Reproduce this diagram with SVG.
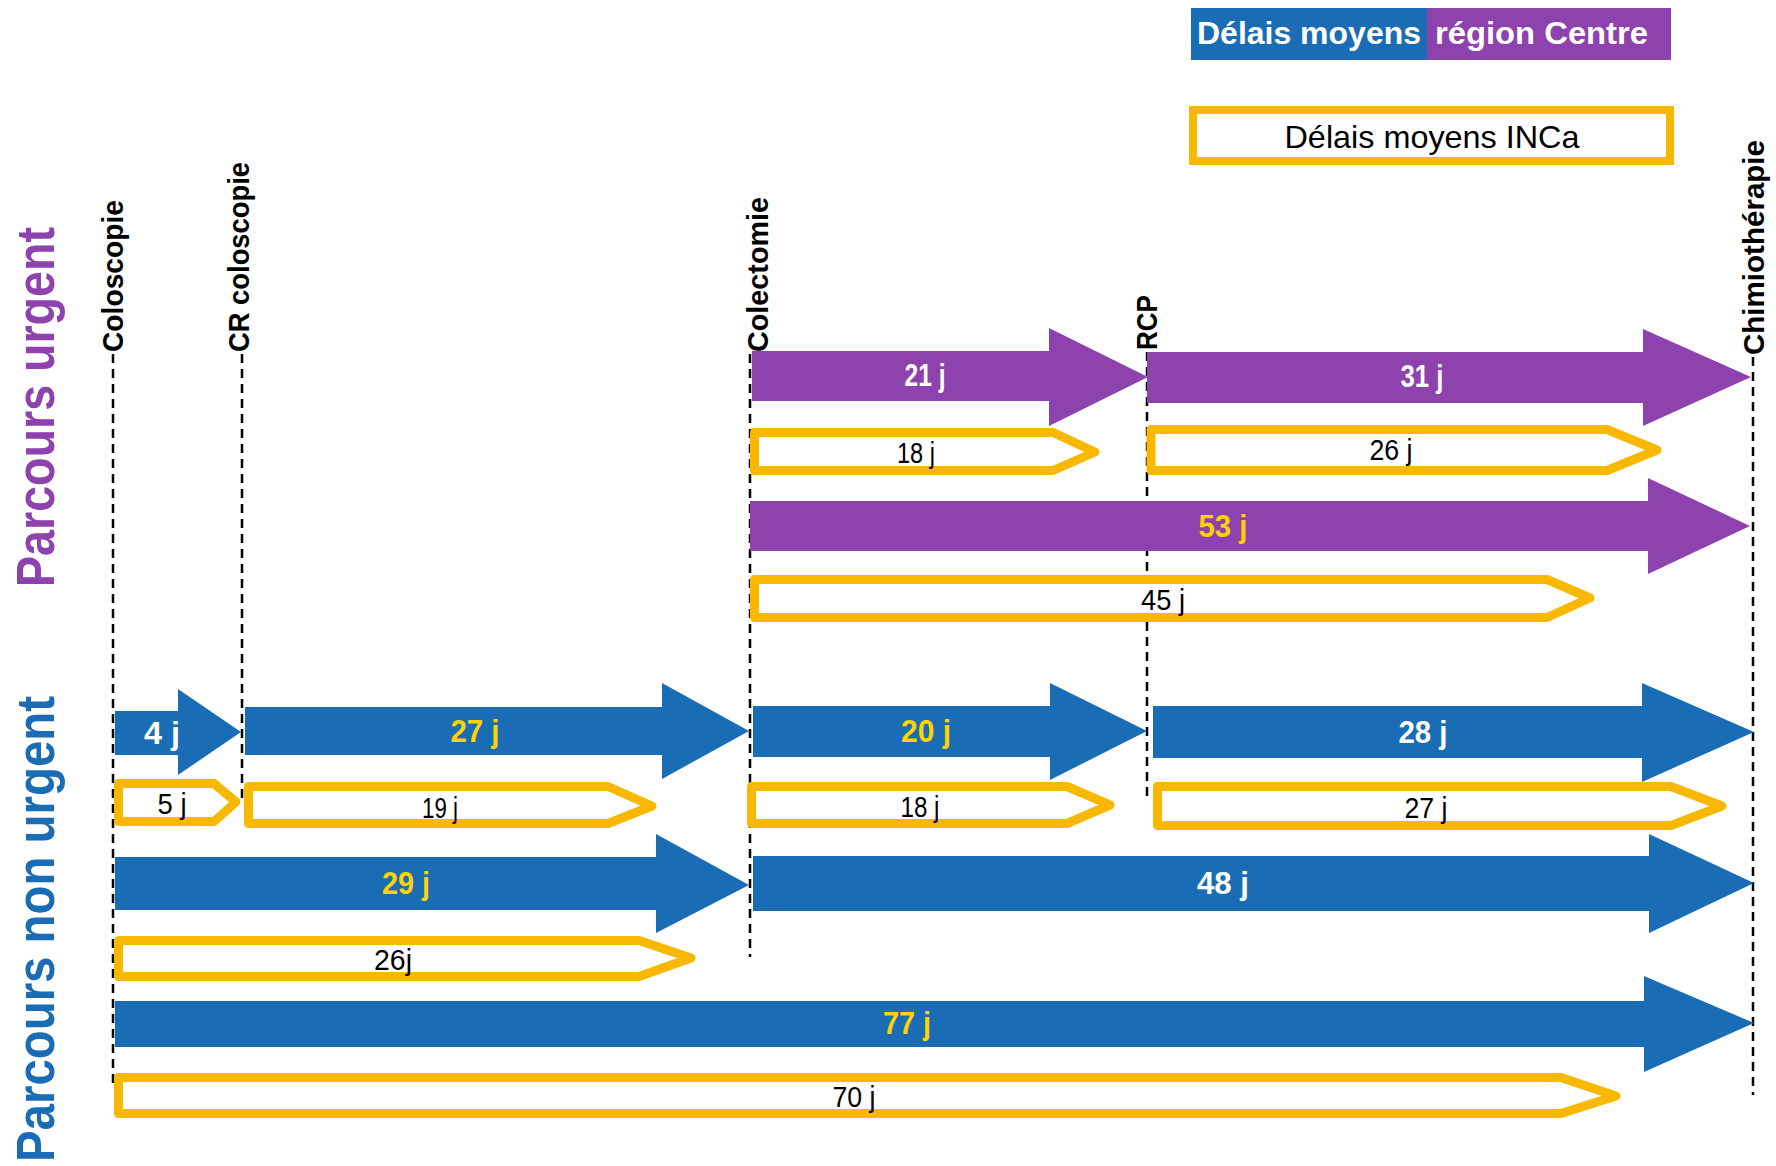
<svg xmlns="http://www.w3.org/2000/svg" width="1776" height="1166" viewBox="0 0 1776 1166">
<style>
.pu{fill:#8E42AD}
.bl{fill:#1A6DB5}
.box{fill:#fff;stroke:#F9B800;stroke-width:9;stroke-linejoin:round}
.vl{font-family:"Liberation Sans",Arial,sans-serif;font-weight:bold;font-size:30px;fill:#000}
.num{font-family:"Liberation Sans",Arial,sans-serif;font-weight:bold;font-size:31px;text-anchor:middle}
.w{fill:#fff}
.y{fill:#FFD200}
.inca{font-family:"Liberation Sans",Arial,sans-serif;font-size:29px;fill:#000;text-anchor:middle}
.dash{stroke:#000;stroke-width:2.5;stroke-dasharray:9 6;fill:none}
.title{font-family:"Liberation Sans",Arial,sans-serif;font-weight:bold;font-size:54px}
</style>
<rect width="1776" height="1166" fill="#fff"/>

<g id="legend-region">
<rect x="1191" y="8" width="236" height="52" fill="#1A6DB5"/>
<rect x="1427" y="8" width="244" height="52" fill="#8E42AD"/>
<text x="1197" y="44" font-family="Liberation Sans, Arial, sans-serif" font-weight="bold" font-size="31" fill="#fff" textLength="224" lengthAdjust="spacingAndGlyphs">Délais moyens</text>
<text x="1435" y="44" font-family="Liberation Sans, Arial, sans-serif" font-weight="bold" font-size="31" fill="#fff" textLength="213" lengthAdjust="spacingAndGlyphs">région Centre</text>
</g>
<g id="legend-inca">
<rect x="1193" y="110" width="477" height="51" fill="#fff" stroke="#F9B800" stroke-width="8"/>
<text x="1432" y="148" font-family="Liberation Sans, Arial, sans-serif" font-size="32" fill="#000" text-anchor="middle" textLength="295" lengthAdjust="spacingAndGlyphs">Délais moyens INCa</text>
</g>

<g id="title-urgent"><text class="title" fill="#8E42AD" transform="translate(54,587) rotate(-90)" textLength="360" lengthAdjust="spacingAndGlyphs">Parcours urgent</text></g>
<g id="title-non-urgent"><text class="title" fill="#1A6DB5" transform="translate(54,1162) rotate(-90)" textLength="466" lengthAdjust="spacingAndGlyphs">Parcours non urgent</text></g>

<g id="connectors">
<line class="dash" x1="113" y1="354" x2="113" y2="1087"/>
<line class="dash" x1="242" y1="354" x2="242" y2="800"/>
<line class="dash" x1="750" y1="354" x2="750" y2="957"/>
<line class="dash" x1="1147" y1="352" x2="1147" y2="798"/>
<line class="dash" x1="1753" y1="357" x2="1753" y2="1095"/>
</g>

<g id="label-coloscopie"><text class="vl" transform="translate(123,352) rotate(-90)" textLength="152" lengthAdjust="spacingAndGlyphs">Coloscopie</text></g>
<g id="label-cr-coloscopie"><text class="vl" transform="translate(249,352) rotate(-90)" textLength="190" lengthAdjust="spacingAndGlyphs">CR coloscopie</text></g>
<g id="label-colectomie"><text class="vl" transform="translate(768,352) rotate(-90)" textLength="155" lengthAdjust="spacingAndGlyphs">Colectomie</text></g>
<g id="label-rcp"><text class="vl" transform="translate(1157,350) rotate(-90)" textLength="55" lengthAdjust="spacingAndGlyphs">RCP</text></g>
<g id="label-chimio"><text class="vl" transform="translate(1764,355) rotate(-90)" textLength="215" lengthAdjust="spacingAndGlyphs">Chimiothérapie</text></g>

<!-- urgent -->
<g id="u-21j">
<polygon class="pu" points="752,351 1049,351 1049,328 1148,377 1049,426 1049,401 752,401"/>
<text class="num w" x="925" y="386" textLength="41" lengthAdjust="spacingAndGlyphs">21 j</text>
</g>
<g id="u-31j">
<polygon class="pu" points="1147,352 1643,352 1643,329 1751,377 1643,426 1643,403 1147,403"/>
<text class="num w" x="1422" y="387" textLength="43" lengthAdjust="spacingAndGlyphs">31 j</text>
</g>
<g id="u-18j">
<path class="box" d="M754.5,432.5 H1053 L1095,452 L1053,470.5 H754.5 Z"/>
<text class="inca" x="916" y="463" textLength="38" lengthAdjust="spacingAndGlyphs">18 j</text>
</g>
<g id="u-26j">
<path class="box" d="M1151,429.5 H1607 L1657,450 L1607,470.5 H1151 Z"/>
<text class="inca" x="1391" y="460" textLength="43" lengthAdjust="spacingAndGlyphs">26 j</text>
</g>
<g id="u-53j">
<polygon class="pu" points="750,501 1648,501 1648,478 1750,526 1648,574 1648,551 750,551"/>
<text class="num y" x="1223" y="537" textLength="49" lengthAdjust="spacingAndGlyphs">53 j</text>
</g>
<g id="u-45j">
<path class="box" d="M754.5,579.5 H1547 L1590,598 L1547,617.5 H754.5 Z"/>
<text class="inca" x="1163" y="610" textLength="44" lengthAdjust="spacingAndGlyphs">45 j</text>
</g>

<!-- non urgent -->
<g id="n-4j">
<polygon class="bl" points="115,711 178,711 178,689 241,732 178,775 178,755 115,755"/>
<text class="num w" x="162" y="744" textLength="36" lengthAdjust="spacingAndGlyphs">4 j</text>
</g>
<g id="n-27j">
<polygon class="bl" points="245,707 662,707 662,683 749,731 662,779 662,755 245,755"/>
<text class="num y" x="475" y="742" textLength="49" lengthAdjust="spacingAndGlyphs">27 j</text>
</g>
<g id="n-20j">
<polygon class="bl" points="753,706 1050,706 1050,683 1147,731 1050,780 1050,757 753,757"/>
<text class="num y" x="926" y="742" textLength="50" lengthAdjust="spacingAndGlyphs">20 j</text>
</g>
<g id="n-28j">
<polygon class="bl" points="1153,706 1642,706 1642,683 1754,732 1642,782 1642,758 1153,758"/>
<text class="num w" x="1423" y="743" textLength="49" lengthAdjust="spacingAndGlyphs">28 j</text>
</g>
<g id="n-5j">
<path class="box" d="M118.5,783.5 H214 L236,802 L214,821.5 H118.5 Z"/>
<text class="inca" x="172" y="814" textLength="29" lengthAdjust="spacingAndGlyphs">5 j</text>
</g>
<g id="n-19j">
<path class="box" d="M248.5,786.5 H608 L652,806 L608,823.5 H248.5 Z"/>
<text class="inca" x="440" y="818" textLength="36" lengthAdjust="spacingAndGlyphs">19 j</text>
</g>
<g id="n-18j">
<path class="box" d="M751.5,786.5 H1067 L1110,805 L1067,823.5 H751.5 Z"/>
<text class="inca" x="920" y="817" textLength="39" lengthAdjust="spacingAndGlyphs">18 j</text>
</g>
<g id="n-27j-inca">
<path class="box" d="M1157.5,786.5 H1671 L1722,806 L1671,825.5 H1157.5 Z"/>
<text class="inca" x="1426" y="818" textLength="43" lengthAdjust="spacingAndGlyphs">27 j</text>
</g>
<g id="n-29j">
<polygon class="bl" points="115,857 656,857 656,834 749,885 656,933 656,910 115,910"/>
<text class="num y" x="406" y="894" textLength="48" lengthAdjust="spacingAndGlyphs">29 j</text>
</g>
<g id="n-48j">
<polygon class="bl" points="753,856 1649,856 1649,834 1754,883 1649,933 1649,911 753,911"/>
<text class="num w" x="1223" y="894" textLength="52" lengthAdjust="spacingAndGlyphs">48 j</text>
</g>
<g id="n-26j">
<path class="box" d="M118.5,940.5 H639 L691,958 L639,976.5 H118.5 Z"/>
<text class="inca" x="393" y="970" textLength="38" lengthAdjust="spacingAndGlyphs">26j</text>
</g>
<g id="n-77j">
<polygon class="bl" points="115,1001 1644,1001 1644,976 1754,1023 1644,1072 1644,1047 115,1047"/>
<text class="num y" x="907" y="1034" textLength="48" lengthAdjust="spacingAndGlyphs">77 j</text>
</g>
<g id="n-70j">
<path class="box" d="M118.5,1077.5 H1561 L1616,1096 L1561,1113.5 H118.5 Z"/>
<text class="inca" x="854" y="1107" textLength="43" lengthAdjust="spacingAndGlyphs">70 j</text>
</g>
</svg>
